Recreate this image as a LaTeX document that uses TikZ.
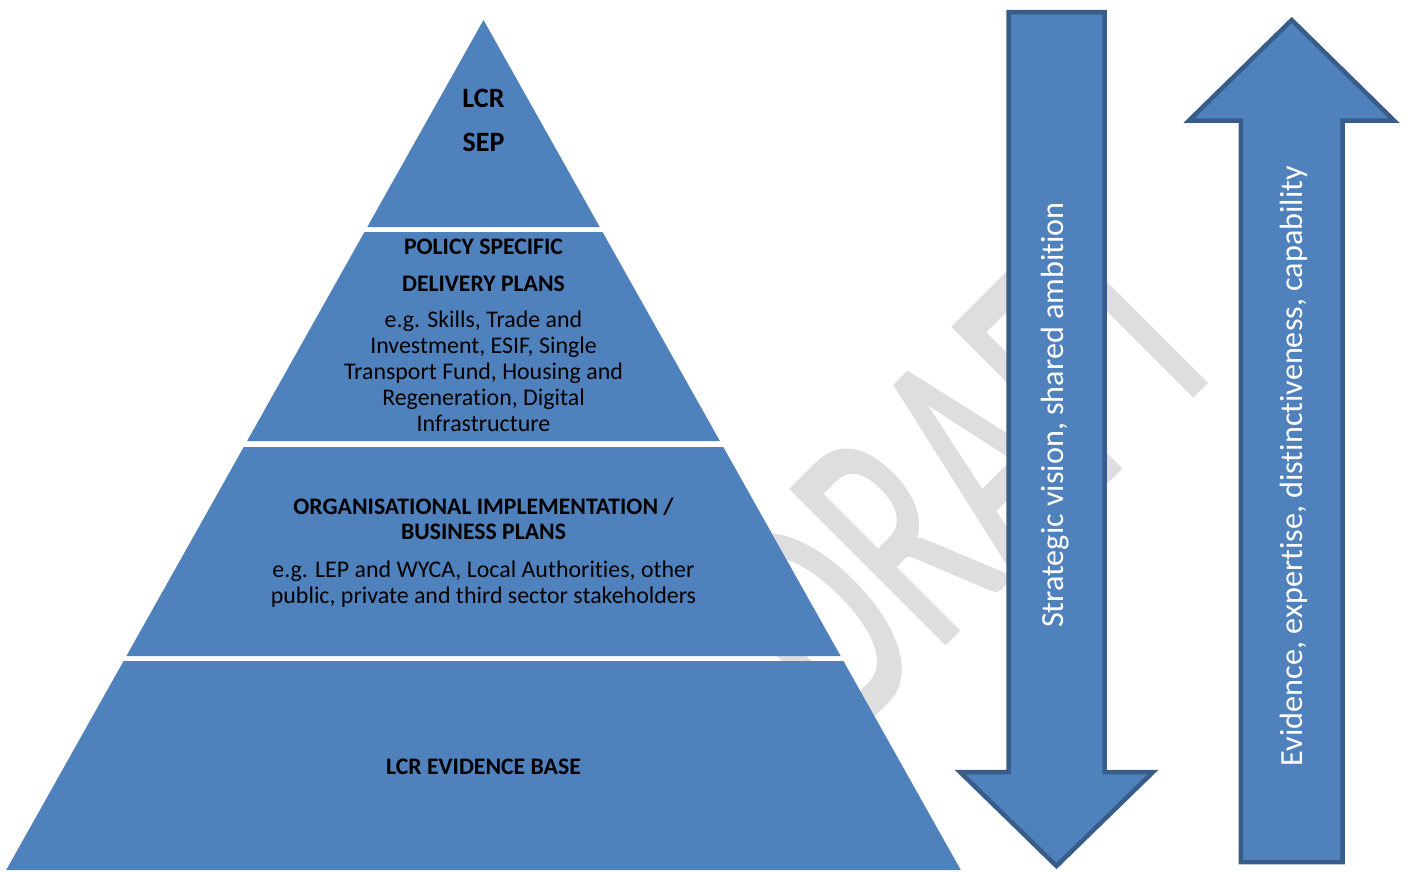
\documentclass[tikz,border=0pt]{standalone}
\usepackage{fontspec}
\setmainfont{Carlito}[Ligatures=NoCommon]
\usepackage{tikz}
\usetikzlibrary{calc,positioning}
\definecolor{pyrblue}{HTML}{4F81BD}
\definecolor{arrowline}{HTML}{385D8A}
\definecolor{wmgrey}{HTML}{DEDEDE}
\tikzset{
  band/.style={fill=pyrblue},
  bigarrow/.style={fill=pyrblue, draw=arrowline, line width=4.5pt},
  headtext/.style={font=\fontsize{23.7}{36.7}\selectfont\bfseries, align=center, inner sep=0pt},
  bodytext/.style={font=\fontsize{23.9}{26.2}\selectfont, align=center, inner sep=0pt},
  arrowtext/.style={font=\fontsize{32.2}{32.2}\selectfont, text=white, rotate=90,
                    anchor=base, inner sep=0pt},
  wmark/.style={font=\fontsize{205}{205}\selectfont\addfontfeature{FakeBold=1.2}, text=wmgrey,
                rotate=45, yscale=1.65, anchor=base, inner sep=0pt}
}

\begin{document}
\begin{tikzpicture}[x=1pt, y=-1pt]
  \useasboundingbox (0,0) rectangle (1407,871);

  % watermark behind everything
  \node[wmark] (draft) at (1040,548) {DRAFT};

  % pyramid, four bands with white gaps
  \foreach \ytop/\ybot in {20/227, 232/441, 447/656, 661/870}
    \fill[band] ({483.5-0.5615*(\ytop-20)},\ytop) -- ({483.5+0.5615*(\ytop-20)},\ytop)
      -- ({483.5+0.5615*(\ybot-20)},\ybot) -- ({483.5-0.5615*(\ybot-20)},\ybot) -- cycle;

  \node[headtext, font=\fontsize{28}{44.5}\selectfont\bfseries, anchor=south] (sep) at (483.5,152.3) {LCR\\SEP};
  \node[headtext, anchor=south] (pshead) at (483.5,291.7) {POLICY SPECIFIC\\DELIVERY PLANS};
  \node[bodytext, anchor=south] (psbody) at (483.5,432.3)
    {e.g. Skills, Trade and\\Investment, ESIF, Single\\Transport Fund, Housing and\\Regeneration, Digital\\Infrastructure};
  \node[headtext, font=\fontsize{23.7}{25.5}\selectfont\bfseries, anchor=south] (orghead) at (483.5,540)
    {ORGANISATIONAL IMPLEMENTATION /\\BUSINESS PLANS};
  \node[bodytext, anchor=north] (orgbody) at (483.5,560.7)
    {e.g. LEP and WYCA, Local Authorities, other\\public, private and third sector stakeholders};
  \node[headtext, anchor=base] (evbase) at (483.5,774) {LCR EVIDENCE BASE};

  % downward arrow
  \draw[bigarrow] (1008.5,12) -- (1104.5,12) -- (1104.5,772) -- (1153,772)
    -- (1056.5,866) -- (960,772) -- (1008.5,772) -- cycle;
  \node[arrowtext] (vision) at (1063,415) {Strategic vision, shared ambition};

  % upward arrow
  \draw[bigarrow] (1240.8,862) -- (1240.8,120.5) -- (1189,120.5) -- (1291.7,20)
    -- (1394,120.5) -- (1342.5,120.5) -- (1342.5,862) -- cycle;
  \node[arrowtext] (evidence) at (1302,466) {Evidence, expertise, distinctiveness, capability};
\end{tikzpicture}
\end{document}
